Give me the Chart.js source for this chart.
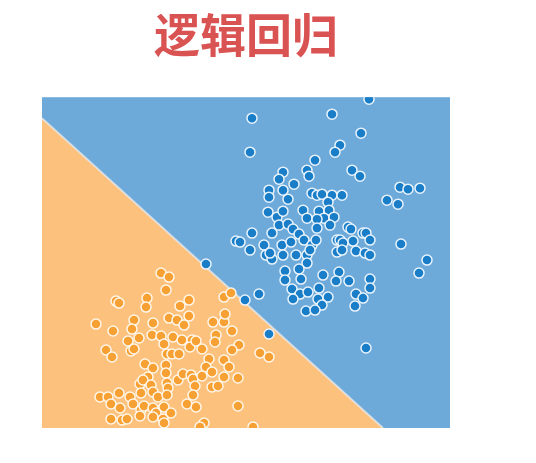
<!DOCTYPE html>
<html>
<head>
<meta charset="utf-8">
<script src="https://cdn.jsdelivr.net/npm/chart.js@4.4.1/dist/chart.umd.min.js"></script>
<style>
  html, body { margin: 0; padding: 0; background: #ffffff; }
  #wrap { width: 536px; height: 463px; }
</style>
</head>
<body>
<div id="wrap"><canvas id="c" width="536" height="463"></canvas></div>
<script>
// Chart title
const titleText = "逻辑回归";

// Feature-space extents (arbitrary units; y grows downward)
const xRange = [42, 450];
const yRange = [97, 428];

// Decision boundary endpoints
const boundaryX = [42, 383];
const boundaryY = [118, 428];

// Class 1 (blue) samples
const blueX = [369,252,332,361,250,340,335,315,283,279,307,309,294,352,360,269,269,283,288,312,317,322,332,342,328,400,408,420,387,398,268,277,283,303,307,319,329,324,334,317,279,288,293,252,272,299,236,240,264,282,291,304,312,316,317,250,266,272,270,283,296,307,310,307,348,351,363,366,337,340,343,353,370,337,342,356,365,370,401,427,419,206,299,285,285,301,323,339,336,349,370,370,292,300,308,319,293,318,328,322,306,315,356,363,355,259,245,269,366,330];
const blueY = [99,118,114,133,152,145,152,160,172,179,170,176,184,170,176,190,197,190,199,193,195,194,195,195,202,187,189,188,200,204,212,217,211,210,218,211,210,218,217,219,225,224,229,233,233,234,241,242,245,245,242,240,245,240,228,250,255,259,253,255,255,255,250,263,227,229,233,233,240,240,243,241,240,252,250,251,253,255,244,260,273,264,269,271,280,279,275,272,281,281,279,288,289,294,292,288,299,299,297,305,311,310,294,298,306,294,300,334,348,225];

// Class 0 (orange) samples
const orangeX = [161,169,166,224,231,116,119,147,146,180,189,134,153,169,177,189,184,96,113,132,139,128,152,161,173,164,182,192,190,196,213,224,225,216,215,232,239,232,260,269,106,112,131,134,167,172,179,202,209,206,145,153,166,166,148,140,143,178,183,191,193,202,212,224,229,224,238,212,218,195,167,168,151,141,153,158,167,193,100,108,119,111,120,130,133,141,144,153,164,156,171,187,196,111,122,127,140,153,163,164,204,200,238,253];
const orangeY = [273,277,290,297,293,301,303,298,307,306,300,320,323,318,320,316,325,324,331,329,338,341,335,336,337,344,340,340,347,341,322,322,314,335,342,331,345,350,353,357,350,357,351,349,354,354,354,349,359,367,364,368,365,373,377,384,380,380,374,375,379,376,372,360,367,377,378,387,386,386,383,388,385,393,392,397,395,395,397,397,393,404,408,397,404,410,406,408,407,413,413,404,407,419,420,419,416,417,419,423,423,427,406,427];

const zip = (xs, ys) => xs.map((x, i) => ({ x, y: ys[i] }));

const bgPlugin = {
  id: 'bgPlugin',
  beforeDatasetsDraw(chart) {
    const { ctx, chartArea } = chart;
    ctx.save();
    ctx.fillStyle = '#6EAAD9';
    ctx.fillRect(chartArea.left, chartArea.top, chartArea.right - chartArea.left, chartArea.bottom - chartArea.top);
    ctx.restore();
  }
};

new Chart(document.getElementById('c'), {
  type: 'scatter',
  data: {
    datasets: [
      {
        type: 'line',
        label: 'boundary',
        data: zip(boundaryX, boundaryY),
        borderColor: 'rgba(235,240,245,0.7)',
        borderWidth: 2,
        backgroundColor: '#FDC17E',
        fill: { value: yRange[1] },
        pointRadius: 0,
        tension: 0,
        order: 3
      },
      {
        label: 'class 0',
        data: zip(orangeX, orangeY),
        backgroundColor: '#F7A134',
        borderColor: 'rgba(255,250,240,0.95)',
        borderWidth: 1.5,
        pointRadius: 5,
        order: 1
      },
      {
        label: 'class 1',
        data: zip(blueX, blueY),
        backgroundColor: '#197DC8',
        borderColor: 'rgba(240,248,255,0.95)',
        borderWidth: 1.5,
        pointRadius: 5,
        order: 0
      }
    ]
  },
  options: {
    responsive: false,
    animation: false,
    layout: { padding: { left: 42, right: 86, top: 0, bottom: 35 } },
    plugins: {
      legend: { display: false },
      tooltip: { enabled: false },
      title: {
        display: true,
        text: titleText,
        color: '#DA5353',
        font: { family: '"Noto Sans CJK SC", "Noto Sans", sans-serif', size: 46, weight: 'bold', lineHeight: 1.2 },
        padding: { top: 7, bottom: 35 }
      }
    },
    scales: {
      x: { type: 'linear', min: xRange[0], max: xRange[1], display: false },
      y: { type: 'linear', min: yRange[0], max: yRange[1], reverse: true, display: false }
    }
  },
  plugins: [bgPlugin]
});
</script>
</body>
</html>
